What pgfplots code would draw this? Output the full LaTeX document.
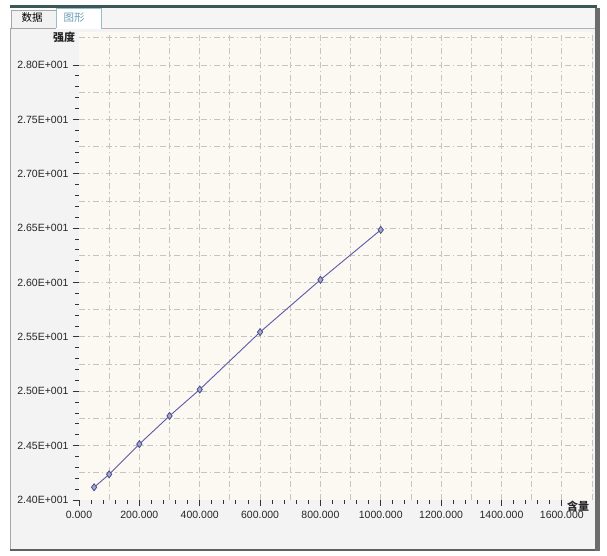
\documentclass[border=0pt]{standalone}
\usepackage{fontspec}
\setmainfont{Liberation Sans}
\newfontfamily\cjk{Noto Sans CJK SC}
\usepackage{pgfplots}
\pgfplotsset{compat=1.18}
\definecolor{cream}{HTML}{FCF9F3}
\definecolor{panel}{HTML}{F3F3F3}
\definecolor{gridc}{HTML}{C4C4C4}
\definecolor{linec}{HTML}{5A5AAA}
\definecolor{markf}{HTML}{A4AACB}
\definecolor{markd}{HTML}{4C4C88}
\definecolor{topdark}{HTML}{3A5858}
\definecolor{tabtxt}{HTML}{6A9FB5}
\begin{document}
\begin{tikzpicture}[x=1pt,y=1pt]
\useasboundingbox (0,0) rectangle (607,555);
\fill[white] (0,0) rectangle (607,555);
% panel
\fill[panel] (10,5) rectangle (596,527);
\draw[gray!70] (10.5,5) -- (10.5,527);
\draw[gray!60] (101,527) -- (596,527);
\fill[gray!75!black] (10,4) rectangle (600,6.5);
\fill[gray!85!black] (595,4) rectangle (600,547);
% top dark line
\fill[topdark] (10,547) rectangle (597,549.5);
% tabs
\fill[gray!8] (101,527) rectangle (595,547);
\draw[gray!70,fill=gray!10] (11,527) rectangle (56,545);
\node[font=\cjk\fontsize{10.5}{11}\selectfont] at (32,537) {数据};
\fill[white] (56,526) rectangle (101,547);
\draw[tabtxt!70] (56,527) -- (56,547) -- (101,547) -- (101,527);
\node[font=\cjk\fontsize{10.5}{11}\selectfont, text=tabtxt] at (74,537) {图形};

% grid axis
\begin{axis}[
  at={(79pt,55pt)}, anchor=south west, scale only axis,
  width=513pt, height=467.6pt,
  xmin=0, xmax=1700, ymin=24, ymax=28.3,
  axis background/.style={fill=cream},
  axis line style={draw=none},
  xtick={100,200,...,1700}, ytick={24.25,24.5,24.75,25,25.25,25.5,25.75,26,26.25,26.5,26.75,27,27.25,27.5,27.75,28,28.25},
  xticklabels={}, yticklabels={},
  tick style={draw=none},
  grid=major,
  major grid style={gridc, line width=0.8pt, dash pattern=on 6pt off 3pt on 1.5pt off 3pt},
]
\end{axis}

% main axis
\begin{axis}[
  at={(79pt,55pt)}, anchor=south west, scale only axis,
  width=513pt, height=467.6pt,
  xmin=0, xmax=1700, ymin=24, ymax=28.3,
  axis x line*=bottom, axis y line*=left,
  axis line style={draw=none},
  xtick={0,200,400,600,800,1000,1200,1400,1600},
  xticklabels={0.000,200.000,400.000,600.000,800.000,1000.000,1200.000,1400.000,1600.000},
  minor x tick num=4,
  ytick={24,24.5,25,25.5,26,26.5,27,27.5,28},
  yticklabels={2.40E+001,2.45E+001,2.50E+001,2.55E+001,2.60E+001,2.65E+001,2.70E+001,2.75E+001,2.80E+001},
  minor y tick num=4,
  tick align=outside,
  major tick length=6pt, minor tick length=4pt,
  tick style={black!80, line width=0.9pt},
  tick label style={font=\fontsize{10.5}{12}\selectfont, text=black!85},
  xticklabel style={yshift=-2pt},
  yticklabel style={xshift=-1pt},
  clip=false,
]
\addplot[linec, line width=0.9pt, mark=diamond*, mark size=3.5pt,
  mark options={fill=markf, draw=markd, line width=0.8pt}]
  coordinates {(50,24.117) (100,24.236) (200,24.514) (300,24.773) (400,25.016) (600,25.544) (800,26.025) (1000,26.484)};
\end{axis}
\node[font=\cjk\bfseries\fontsize{11}{12}\selectfont, text=black!85] at (64,518) {强度};
\node[font=\cjk\bfseries\fontsize{11}{12}\selectfont, text=black!85] at (578,49) {含量};
\end{tikzpicture}
\end{document}
